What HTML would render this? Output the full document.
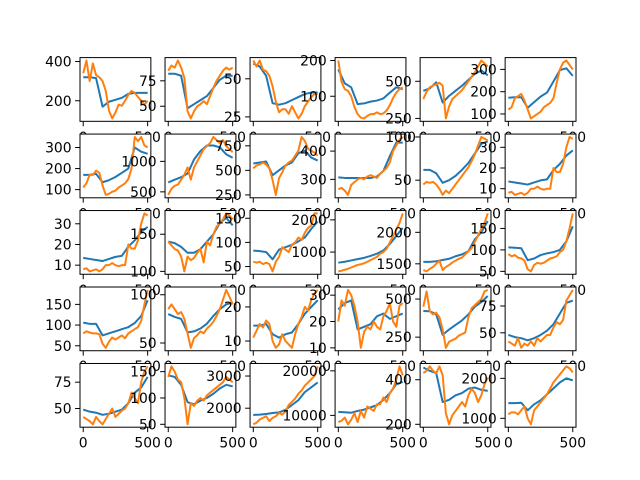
<!DOCTYPE html>
<html><head><meta charset="utf-8"><style>
html,body{margin:0;padding:0;background:#fff;}
svg{display:block;font-family:"DejaVu Sans","Liberation Sans",sans-serif;}
</style></head><body>
<svg id="fig" width="640" height="480" viewBox="0 0 640 480" xmlns="http://www.w3.org/2000/svg">
<rect width="640" height="480" fill="#fff"/>
</svg>
<script>
const xBlue = [0,50,100,150,200,250,300,350,400,450,500];
const xOrange = [0,25,50,75,100,125,150,175,200,225,250,275,300,325,350,375,400,425,450,475,500];
const xTickValues = [0, 500];
const blueSeries = [
 [320,320,315,170,195,205,215,235,240,240,240],
 [82,82,80,48,52,56,60,68,76,80,80],
 [60,58,52,34,33,34,36,38,40,41,41],
 [175,136,125,78,80,85,88,94,110,125,120],
 [436,452,493,357,402,436,470,510,550,573,540],
 [173,175,175,128,153,178,196,246,297,305,271],
 [170,170,175,135,145,160,180,200,300,280,270],
 [655,700,740,800,1030,1170,1260,1260,1230,1115,1060],
 [570,580,590,450,500,550,580,675,700,630,600],
 [307,305,305,305,305,305,310,330,382,430,430],
 [62,62,58,47,50,55,62,70,81,92,95],
 [13.5,13,12.5,12,13,14,14.5,19,22,26,28.5],
 [13.5,13,12.5,12,13,14,14.5,19,22,26,28.5],
 [140,138,133,125,125,130,140,150,165,172,162],
 [83,82,80,65,85,90,95,102,110,128,143],
 [670,700,740,780,820,880,950,1050,1250,1500,1750],
 [1530,1530,1540,1560,1580,1620,1650,1700,1890,2000,2180],
 [106,105,104,76,80,88,92,95,100,120,155],
 [106,103,103,75,80,85,90,95,105,122,160],
 [80,77,75,61,62,65,70,78,85,90,92],
 [14.5,14.5,15,12,11,12,12.5,15,18,20,22],
 [24.6,27,28,17,18,19,22,23,21,22,23],
 [422,420,400,265,300,330,360,400,450,480,520],
 [48,46,45,43,45,48,52,58,68,78,80],
 [49,47,46,44,45,47,49,55,65,70,80],
 [143,140,125,92,88,95,100,108,118,125,122],
 [1790,1800,1820,1850,1870,1950,2100,2250,2500,2650,2800],
 [10800,10700,10600,11000,11300,11800,12300,13500,15000,17000,17500],
 [455,440,430,300,310,330,340,360,365,355,350],
 [1380,1380,1390,1200,1350,1450,1600,1750,1900,2000,1950]
];
const orangeSeries = [
 [340,405,300,390,330,320,300,250,150,110,140,180,175,200,230,250,240,220,200,180,200],
 [85,90,88,95,88,78,45,38,45,50,52,55,52,60,68,75,80,85,88,86,88],
 [62,58,62,56,55,52,45,35,28,30,30,27,32,28,24,27,32,35,38,40,40],
 [200,140,120,115,100,70,50,40,38,45,50,50,55,50,52,60,75,95,110,120,125],
 [380,430,460,470,480,490,470,250,330,380,400,420,440,470,500,530,560,600,640,620,600],
 [120,130,170,180,190,160,120,80,90,100,110,130,140,150,170,240,300,330,340,320,300],
 [110,130,170,170,190,180,120,75,80,90,95,110,120,130,150,200,350,330,350,310,300],
 [450,550,600,620,700,780,900,700,900,1000,1100,1200,1250,1300,1400,1350,1300,1350,1250,1200,1150],
 [520,550,560,580,560,520,400,250,420,480,550,580,600,650,700,840,800,720,700,680,650],
 [265,270,260,245,280,290,300,305,300,310,315,310,305,320,330,340,360,400,420,440,450],
 [45,48,47,48,45,40,33,38,35,40,45,50,55,60,65,72,80,90,100,98,96],
 [8,8.5,7,7.5,8,7,8,10,10,11,10,9.5,10,10,20,18,18,22,30,35,34],
 [8,8.5,7,7.5,8,7,8,10,10,11,10,9.5,10,10,20,18,18,22,30,35,34],
 [140,135,130,128,120,100,120,115,118,125,130,112,140,135,150,160,165,170,178,175,170],
 [60,58,60,55,58,55,40,60,70,90,85,80,95,100,110,105,120,130,135,160,160],
 [400,420,450,480,520,560,600,620,650,700,750,800,850,950,1000,1100,1300,1500,1700,1900,2200],
 [1400,1380,1420,1450,1500,1550,1400,1450,1480,1520,1550,1580,1600,1650,1700,1750,1850,1950,2050,2150,2300],
 [90,85,88,82,80,75,55,50,65,70,68,70,75,80,82,85,95,100,120,150,185],
 [80,85,82,80,80,78,55,45,60,70,65,70,75,68,80,85,90,95,110,150,185],
 [85,90,85,80,82,75,60,45,55,58,62,60,65,68,72,78,85,95,105,98,90],
 [11,13,15,14,16,15,10,8,9,12,10,9,8,12,15,17,20,19,22,24,25],
 [20,28,26,32,30,26,20,10,16,18,17,20,18,17,22,24,27,20,18,26,27],
 [450,550,420,400,410,380,300,180,220,230,240,260,270,280,380,440,460,480,500,550,560],
 [42,40,38,45,36,40,38,42,38,45,42,45,48,48,55,60,58,62,80,85,90],
 [42,40,38,35,42,38,35,40,45,50,42,45,48,50,55,65,60,55,75,85,90],
 [140,160,150,135,130,100,50,90,85,95,100,95,105,110,115,120,125,130,140,135,130],
 [1500,1550,1650,1700,1750,1600,1700,1750,1850,1800,1900,2100,2200,2300,2450,2550,2700,2800,2900,3000,3300],
 [8500,8800,9500,8000,9000,10500,8500,11000,9500,12000,11500,11000,12500,12500,14000,13000,15000,16000,18000,21000,19000],
 [430,440,460,440,430,460,420,250,200,240,260,280,300,280,330,360,340,300,330,380,410],
 [1100,1150,1150,1100,1200,1300,1000,850,1200,1300,1400,1500,1600,1750,1900,2000,2100,2200,2300,2250,2150]
];
const yTickValues = [
 [200,400],[50,75],[25,50],[100,200],[250,500],[100,200,300],
 [100,200,300],[500,1000],[250,500,750],[300,400],[50,100],[10,20,30],
 [10,20,30],[100,150],[50,100,150],[1000,2000],[1500,2000],[50,100,150],
 [50,100,150],[50,100],[10,20],[10,20,30],[250,500],[50,75],
 [50,75],[50,100,150],[2000,3000],[10000,20000],[200,400],[1000,2000]
];

const NS = "http://www.w3.org/2000/svg";
const svg = document.getElementById('fig');
const L = 80, R = 576, T = 57.6, B = 427.2;
const W = (R - L) / (6 + 5 * 0.2), H = (B - T) / (5 + 4 * 0.2);
const xMin = -25, xMax = 525;
function mk(tag, attrs, parent) {
  const e = document.createElementNS(NS, tag);
  for (const k in attrs) e.setAttribute(k, attrs[k]);
  parent.appendChild(e);
  return e;
}
const defs = mk('defs', {}, svg);

for (let i = 0; i < 30; i++) {
  const r = Math.floor(i / 6), c = i % 6;
  const x0 = L + c * W * 1.2, y0 = T + r * H * 1.2;
  const b = blueSeries[i], o = orangeSeries[i];
  const all = b.concat(o);
  let lo = Math.min(...all), hi = Math.max(...all);
  const pad = (hi - lo) * 0.05; lo -= pad; hi += pad;
  const sx = v => x0 + (v - xMin) / (xMax - xMin) * W;
  const sy = v => y0 + H - (v - lo) / (hi - lo) * H;

  const g = mk('g', {}, svg);
  
  
  const bg = mk('rect', {x: x0, y: y0, width: W, height: H, fill: '#fff'}, g);
  
  
  const cp = mk('clipPath', {id: 'cp' + i}, defs);
  mk('rect', {x: x0, y: y0, width: W, height: H}, cp);

  const bp = b.map((v, k) => sx(xBlue[k]).toFixed(2) + ',' + sy(v).toFixed(2)).join(' ');
  const bl = mk('polyline', {points: bp, fill: 'none', stroke: '#1f77b4', 'stroke-width': 2, 'stroke-linejoin': 'round', 'clip-path': 'url(#cp' + i + ')'}, g);
  
  
  const op = o.map((v, k) => sx(xOrange[k]).toFixed(2) + ',' + sy(v).toFixed(2)).join(' ');
  const ol = mk('polyline', {points: op, fill: 'none', stroke: '#ff7f0e', 'stroke-width': 2, 'stroke-linejoin': 'round', 'clip-path': 'url(#cp' + i + ')'}, g);
  
  

  const fr = mk('rect', {x: x0, y: y0, width: W, height: H, fill: 'none', stroke: '#000', 'stroke-width': 1}, g);
  
  

  xTickValues.forEach(v => {
    const px = sx(v);
    mk('line', {x1: px, y1: y0 + H, x2: px, y2: y0 + H + 4.9, stroke: '#000', 'stroke-width': 1}, g);
    const t = mk('text', {x: px, y: y0 + H + 20.5, 'font-size': 13.9, 'text-anchor': 'middle', fill: '#000'}, g);
    t.textContent = String(v);
    
    
  });
  yTickValues[i].forEach(v => {
    const py = sy(v);
    if (py < y0 - 0.5 || py > y0 + H + 0.5) return;
    mk('line', {x1: x0 - 4.9, y1: py, x2: x0, y2: py, stroke: '#000', 'stroke-width': 1}, g);
    const t = mk('text', {x: x0 - 8.4, y: py + 5, 'font-size': 13.9, 'text-anchor': 'end', fill: '#000'}, g);
    t.textContent = String(v);
    
    
  });
}
</script>
</body></html>
